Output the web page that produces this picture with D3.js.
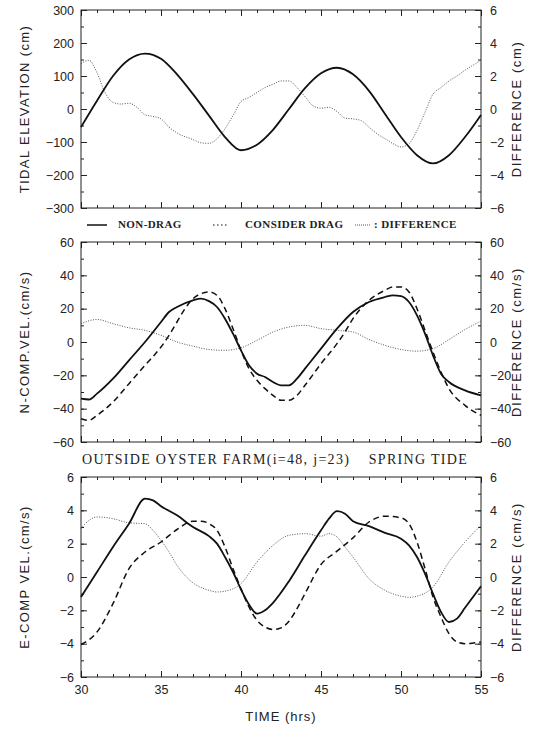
<!DOCTYPE html>
<html>
<head>
<meta charset="utf-8">
<script src="https://cdn.jsdelivr.net/npm/d3@7"></script>
<style>
  body { margin: 0; background: #fff; }
  text { font-family: "Liberation Sans", Arial, sans-serif; fill: #222; }
  .serif { font-family: "Liberation Serif", "Times New Roman", serif; }
</style>
</head>
<body>
<div id="chart"></div>
<script>
// tidal elevation / velocity comparison, outside oyster farm, spring tide

// ---- data (hour, value) ----
var elevNonDrag = [[30,-55],[31,25],[32,100],[33,150],[34,168],[35,152],[36,105],[37,45],[38,-20],[39,-85],[40,-125],
  [41,-108],[42,-63],[43,0],[44,63],[45,108],[46,125],[47,105],[48,55],[49,-15],[50,-85],[51,-140],[52,-165],
  [53,-140],[54,-85],[55,-18]];
var elevDiff = [[30,2.75],[30.5,2.95],[31,2.2],[31.5,1.0],[32,0.4],[32.5,0.3],[33,0.35],[33.5,0.1],[34,-0.35],[34.5,-0.45],
  [35,-0.6],[35.5,-1.1],[36,-1.45],[37,-1.85],[37.5,-2.05],[38,-2.08],[38.5,-1.8],[39,-1.2],[39.5,-0.4],[40,0.45],
  [40.5,0.7],[41,1.0],[41.5,1.3],[42,1.5],[42.5,1.7],[43,1.7],[43.5,1.3],[44,0.75],[44.5,0.2],[45,0.05],[45.5,0.1],
  [46,-0.15],[46.5,-0.55],[47,-0.6],[47.5,-0.7],[48,-1.1],[48.5,-1.5],[49,-1.8],[49.5,-2.1],[50,-2.3],[50.5,-2.1],
  [51,-1.3],[51.5,-0.2],[52,0.9],[52.5,1.3],[53,1.7],[53.5,2.0],[54,2.35],[54.5,2.65],[55,2.95]];

var nNonDrag = [[30,-34],[30.5,-34.5],[31,-31],[32,-22],[33,-11],[34,0],[35,12],[35.5,18],[36,21],[37,25],[37.5,26],
  [38,24.5],[38.5,21],[39,14],[39.5,5],[40,-5],[40.5,-14],[41,-19],[41.5,-21],[42,-24],[42.5,-26],[43,-26],[43.5,-22],
  [44,-16],[45,-4],[46,8],[47,18],[48,24],[49,27],[49.5,28],[50,27.5],[50.5,24],[51,16],[51.5,5],[52,-8],[52.5,-19],
  [53,-24],[54,-29],[55,-32]];
var nDrag = [[30,-46],[30.5,-47],[31,-44],[32,-36],[33,-25],[34,-14],[35,-3],[35.5,4],[36,12],[36.5,20],[37,26],
  [37.5,29],[38,30],[38.5,28],[39,20],[39.5,8],[40,-5],[40.5,-16],[41,-23],[41.5,-28],[42,-32],[42.5,-35],[43,-35],
  [43.5,-32],[44,-26],[45,-13],[46,-1],[46.5,6],[47,14],[48,25],[49,31],[49.5,33],[50,33],[50.5,30],[51,20],[51.5,7],
  [52,-6],[52.5,-18],[53,-28],[54,-38],[55,-44]];
var nDiff = [[30,11],[31,13.5],[32,11],[33,8.5],[34,7],[35,4],[36,0],[37,-2.5],[38,-4.5],[39,-5],[40,-3.5],[41,1],
  [42,6],[43,9],[44,10],[45,8],[46,7],[47,6],[48,1.5],[49,-2],[50,-4.5],[51,-5.5],[52,-4],[53,1.5],[54,7.5],[55,12.5]];

var eNonDrag = [[30,-1.2],[31,0.3],[32,1.8],[33,3.2],[34,4.7],[34.5,4.6],[35,4.25],[36,3.7],[37,3.0],[38,2.45],[38.5,2.0],
  [39,1.2],[39.5,0.3],[40,-0.75],[40.5,-1.65],[41,-2.2],[41.5,-2.0],[42,-1.55],[43,-0.25],[44,1.3],[45,2.8],[45.5,3.5],
  [46,3.95],[46.5,3.8],[47,3.35],[48,3.05],[49,2.65],[50,2.3],[50.5,1.9],[51,1.2],[51.5,0.2],[52,-1.0],[52.5,-2.1],
  [53,-2.7],[53.5,-2.5],[54,-1.85],[55,-0.55]];
var eDrag = [[30,-4.05],[31,-3.3],[32,-1.6],[33,0.5],[34,1.5],[35,2.1],[36,2.85],[37,3.35],[37.5,3.35],[38,3.2],[38.5,2.8],
  [39,1.8],[39.5,0.5],[40,-0.7],[40.5,-1.8],[41,-2.6],[41.5,-3.0],[42,-3.15],[42.5,-3.05],[43,-2.65],[43.5,-1.9],[44,-1.0],
  [45,0.75],[46,1.55],[47,2.35],[48,3.3],[49,3.65],[50,3.55],[50.5,3.2],[51,2.1],[51.5,0.5],[52,-1.2],[52.5,-2.4],
  [53,-3.4],[53.5,-3.9],[54,-4.0],[55,-3.9]];
var eDiff = [[30,2.9],[30.5,3.4],[31,3.6],[32,3.5],[33,3.25],[34,3.2],[34.5,2.8],[35,2.2],[35.5,1.5],[36,0.7],[37,-0.35],
  [38,-0.8],[38.5,-0.9],[39,-0.85],[40,-0.4],[41,0.9],[42,1.9],[43,2.5],[44,2.6],[45,2.45],[45.5,2.6],[46,2.4],[46.5,1.8],
  [47,1.2],[48,-0.1],[49,-0.8],[50,-1.15],[50.5,-1.22],[51,-1.15],[52,-0.6],[53,0.9],[54,2.1],[55,3.1]];

var timeDomain = [30, 55];
var timeTicks = [30, 35, 40, 45, 50, 55];
var legendLabels = ['NON-DRAG', 'CONSIDER DRAG', ': DIFFERENCE'];
var titleLeft = 'OUTSIDE OYSTER FARM(i=48, j=23)';
var titleRight = 'SPRING TIDE';

var panels = [
  {top: 10, bottom: 208, left: [-300, 300], leftStep: 100, right: [-6, 6], rightStep: 2,
   leftTitle: 'TIDAL ELEVATION (cm)', rightTitle: 'DIFFERENCE (cm)',
   solid: elevNonDrag, dashed: null, dotted: elevDiff},
  {top: 242, bottom: 442, left: [-60, 60], leftStep: 20, right: [-60, 60], rightStep: 20,
   leftTitle: 'N-COMP.VEL.(cm/s)', rightTitle: 'DIFFERENCE (cm/s)',
   solid: nNonDrag, dashed: nDrag, dotted: nDiff},
  {top: 477, bottom: 677, left: [-6, 6], leftStep: 2, right: [-6, 6], rightStep: 2,
   leftTitle: 'E-COMP VEL.(cm/s)', rightTitle: 'DIFFERENCE (cm/s)',
   solid: eNonDrag, dashed: eDrag, dotted: eDiff}
];

// ---- setup ----
var w = 545;
var h = 731;
var x0 = 81, x1 = 481;

var svg = d3.select('#chart')
  .append('svg')
  .attr('width', w)
  .attr('height', h);

var x = d3.scaleLinear().domain(timeDomain).range([x0, x1]);

function range(a, b, s) {
  var out = [];
  for (var v = a; v <= b + 1e-9; v += s) out.push(+v.toFixed(6));
  return out;
}

function fmt(d) {
  return d < 0 ? '\u2212' + Math.abs(d) : '' + d;
}

panels.forEach(function(p, i) {
  var yL = d3.scaleLinear().domain(p.left).range([p.bottom, p.top]);
  var yR = d3.scaleLinear().domain(p.right).range([p.bottom, p.top]);
  var g = svg.append('g');

  // frame
  g.append('rect')
    .attr('x', x0).attr('y', p.top)
    .attr('width', x1 - x0).attr('height', p.bottom - p.top)
    .attr('fill', 'none').attr('stroke', '#222').attr('stroke-width', 1);

  var minorX = range(timeDomain[0], timeDomain[1], 1);

  // bottom / top axes (ticks inward)
  var xb = d3.axisBottom(x).tickValues(timeTicks).tickSizeInner(-6).tickSizeOuter(0).tickPadding(8)
    .tickFormat(i === 2 ? d3.format('d') : '');
  var xbMinor = d3.axisBottom(x).tickValues(minorX).tickSizeInner(-3).tickSizeOuter(0).tickFormat('');
  var xt = d3.axisTop(x).tickValues(timeTicks).tickSizeInner(-6).tickSizeOuter(0).tickFormat('');
  var xtMinor = d3.axisTop(x).tickValues(minorX).tickSizeInner(-3).tickSizeOuter(0).tickFormat('');

  g.append('g').attr('class', 'axis').attr('transform', 'translate(0,' + p.bottom + ')').call(xb);
  g.append('g').attr('class', 'axis').attr('transform', 'translate(0,' + p.bottom + ')').call(xbMinor);
  g.append('g').attr('class', 'axis').attr('transform', 'translate(0,' + p.top + ')').call(xt);
  g.append('g').attr('class', 'axis').attr('transform', 'translate(0,' + p.top + ')').call(xtMinor);

  var yl = d3.axisLeft(yL).tickValues(range(p.left[0], p.left[1], p.leftStep))
    .tickSizeInner(-6).tickSizeOuter(0).tickPadding(7).tickFormat(fmt);
  var ylMinor = d3.axisLeft(yL).tickValues(range(p.left[0], p.left[1], p.leftStep / 2))
    .tickSizeInner(-3).tickSizeOuter(0).tickFormat('');
  var yr = d3.axisRight(yR).tickValues(range(p.right[0], p.right[1], p.rightStep))
    .tickSizeInner(-6).tickSizeOuter(0).tickPadding(9).tickFormat(fmt);
  var yrMinor = d3.axisRight(yR).tickValues(range(p.right[0], p.right[1], p.rightStep / 2))
    .tickSizeInner(-3).tickSizeOuter(0).tickFormat('');

  g.append('g').attr('class', 'axis').attr('transform', 'translate(' + x0 + ',0)').call(yl);
  g.append('g').attr('class', 'axis').attr('transform', 'translate(' + x0 + ',0)').call(ylMinor);
  g.append('g').attr('class', 'axis').attr('transform', 'translate(' + x1 + ',0)').call(yr);
  g.append('g').attr('class', 'axis').attr('transform', 'translate(' + x1 + ',0)').call(yrMinor);

  g.selectAll('.axis path').remove();
  g.selectAll('.axis line').attr('stroke', '#222').attr('stroke-width', 1);
  g.selectAll('.axis text').attr('font-size', 12.5).attr('fill', '#222')
    .style('font-family', '"Liberation Sans", Arial, sans-serif');

  // axis titles
  var cy = (p.top + p.bottom) / 2;
  g.append('text')
    .attr('transform', 'translate(26,' + cy + ') rotate(-90)')
    .attr('text-anchor', 'middle').attr('font-size', 13)
    .attr('letter-spacing', 1.4)
    .attr('dominant-baseline', 'middle')
    .text(p.leftTitle);
  g.append('text')
    .attr('transform', 'translate(518,' + cy + ') rotate(-90)')
    .attr('text-anchor', 'middle').attr('font-size', 13)
    .attr('letter-spacing', 1.6)
    .attr('dominant-baseline', 'middle')
    .text(p.rightTitle);

  // lines
  var lineL = d3.line().x(d => x(d[0])).y(d => yL(d[1])).curve(d3.curveMonotoneX);
  var lineR = d3.line().x(d => x(d[0])).y(d => yR(d[1])).curve(d3.curveMonotoneX);

  g.append('path').attr('d', lineR(p.dotted))
    .attr('fill', 'none').attr('stroke', '#555').attr('stroke-width', 1)
    .attr('stroke-dasharray', '1,1.5');
  if (p.dashed) {
    g.append('path').attr('d', lineL(p.dashed))
      .attr('fill', 'none').attr('stroke', '#111').attr('stroke-width', 1.5)
      .attr('stroke-dasharray', '6,4');
  }
  g.append('path').attr('d', lineL(p.solid))
    .attr('fill', 'none').attr('stroke', '#111').attr('stroke-width', 1.8);
});

// legend
var ly = 225;
var leg = svg.append('g');
leg.append('line').attr('x1', 87).attr('x2', 107).attr('y1', ly).attr('y2', ly)
  .attr('stroke', '#111').attr('stroke-width', 1.5);
leg.append('line').attr('x1', 213).attr('x2', 228).attr('y1', ly).attr('y2', ly)
  .attr('stroke', '#111').attr('stroke-width', 1.2).attr('stroke-dasharray', '1.5,2.5');
leg.append('line').attr('x1', 355).attr('x2', 370).attr('y1', ly).attr('y2', ly)
  .attr('stroke', '#555').attr('stroke-width', 1).attr('stroke-dasharray', '1,1');
var legX = [118, 245, 374];
legendLabels.forEach(function(t, i) {
  leg.append('text').attr('class', 'serif')
    .attr('x', legX[i]).attr('y', ly).attr('dominant-baseline', 'middle')
    .attr('font-size', 11).attr('font-weight', 'bold').attr('letter-spacing', 0.4)
    .text(t);
});

// panel 3 title
svg.append('text').attr('class', 'serif')
  .attr('x', 82).attr('y', 461).attr('dominant-baseline', 'middle')
  .attr('font-size', 14).attr('letter-spacing', 1.3)
  .text(titleLeft);
svg.append('text').attr('class', 'serif')
  .attr('x', 468).attr('y', 461).attr('dominant-baseline', 'middle')
  .attr('text-anchor', 'end').attr('font-size', 14).attr('letter-spacing', 1.3)
  .text(titleRight);

// x title
svg.append('text')
  .attr('x', (x0 + x1) / 2).attr('y', 718)
  .attr('text-anchor', 'middle').attr('dominant-baseline', 'middle')
  .attr('font-size', 13).attr('letter-spacing', 1)
  .text('TIME (hrs)');
</script>
</body>
</html>
